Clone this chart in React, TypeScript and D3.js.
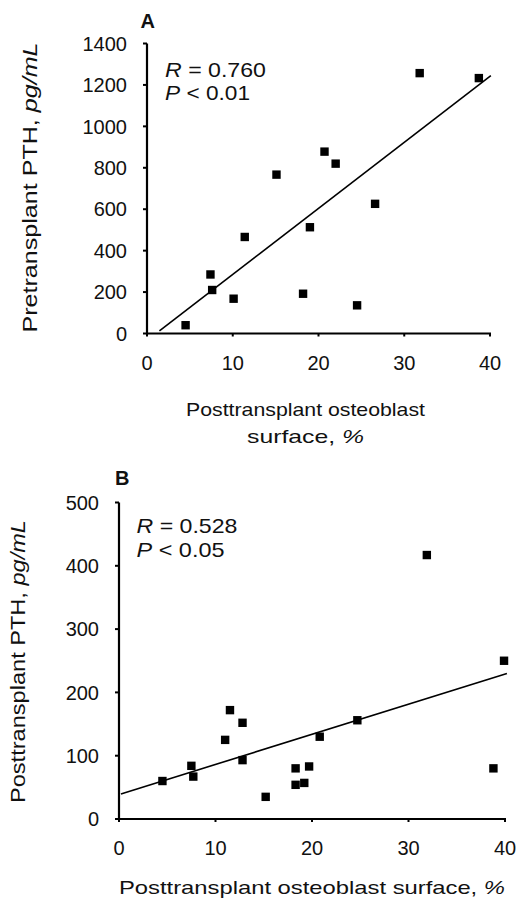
import React from 'react';
import * as d3 from 'd3';

// ---- data ----
const xTickValues = [0, 10, 20, 30, 40];
const aYTickValues = [0, 200, 400, 600, 800, 1000, 1200, 1400];
const bYTickValues = [0, 100, 200, 300, 400, 500];

// Panel A: posttransplant osteoblast surface (%) vs pretransplant PTH (pg/mL)
const aX = [4.5, 7.4, 7.6, 10.1, 11.4, 15.1, 18.2, 19.0, 20.7, 22.0, 24.5, 26.6, 31.8, 38.7];
const aY = [40, 285, 210, 168, 466, 767, 192, 513, 878, 820, 136, 626, 1257, 1233];
const aFit = [-34, 31.9]; // intercept, slope
const aFitRange = [1.45, 40.1];

// Panel B: posttransplant osteoblast surface (%) vs posttransplant PTH (pg/mL)
const bX = [4.5, 7.5, 7.7, 11.0, 11.5, 12.8, 12.8, 15.2, 18.3, 18.3, 19.2, 19.7, 20.8, 24.7, 31.9, 38.8, 39.9];
const bY = [60, 84, 67, 125, 172, 152, 93, 35, 80, 54, 57, 83, 130, 156, 417, 80, 250];
const bFit = [38.6, 4.76];
const bFitRange = [0.2, 40.2];

const FONT = '"Liberation Sans", Arial, Helvetica, sans-serif';

type PanelProps = {
  xs: number[];
  ys: number[];
  fit: number[];
  fitRange: number[];
  yTicks: number[];
  xRange: [number, number];
  yRange: [number, number];
  yMax: number;
};

function Panel({ xs, ys, fit, fitRange, yTicks, xRange, yRange, yMax }: PanelProps) {
  const x = d3.scaleLinear().domain([0, 40]).range(xRange);
  const y = d3.scaleLinear().domain([0, yMax]).range(yRange);
  const line = d3
    .line<number>()
    .x((d) => x(d))
    .y((d) => y(fit[0] + fit[1] * d));
  const pts = xs.map((v, i) => [v, ys[i]]);
  return (
    <g>
      {/* axes */}
      <line x1={x(0)} x2={x(0)} y1={y(0) + 1} y2={y(yMax)} stroke="#000" strokeWidth={2.2} />
      <line x1={x(0) - 1} x2={x(40) + 1} y1={y(0)} y2={y(0)} stroke="#000" strokeWidth={2.2} />
      {yTicks.map((t) => (
        <g key={'y' + t}>
          <line x1={x(0) - 4} x2={x(0)} y1={y(t)} y2={y(t)} stroke="#000" strokeWidth={2} />
          <text
            x={x(0) - 20}
            y={y(t)}
            dy="0.36em"
            textAnchor="end"
            fontSize={20}
            fontFamily={FONT}
            fill="#111"
          >
            {t}
          </text>
        </g>
      ))}
      {xTickValues.map((t) => (
        <g key={'x' + t}>
          <line x1={x(t)} x2={x(t)} y1={y(0)} y2={y(0) + 3} stroke="#000" strokeWidth={2} />
          <text
            x={x(t)}
            y={y(0) + 36}
            textAnchor="middle"
            fontSize={20}
            fontFamily={FONT}
            fill="#111"
          >
            {t}
          </text>
        </g>
      ))}
      <path d={line(fitRange) || ''} stroke="#000" strokeWidth={1.6} fill="none" />
      {pts.map((p, i) => (
        <rect key={i} x={x(p[0]) - 4.2} y={y(p[1]) - 4.2} width={8.4} height={8.4} fill="#000" />
      ))}
    </g>
  );
}

export default function App() {
  return (
    <svg
      width={518}
      height={910}
      style={{ position: 'absolute', left: 0, top: 0, background: '#fff' }}
      fontFamily={FONT}
    >
      <rect width={518} height={910} fill="#fff" />
      {/* Panel A */}
      <text x={140.5} y={27.5} fontSize={20} fontWeight="bold" fill="#111">A</text>
      <text x={165} y={77} fontSize={21} fill="#111" textLength={101} lengthAdjust="spacingAndGlyphs">
        <tspan fontStyle="italic">R</tspan> = 0.760
      </text>
      <text x={165} y={100} fontSize={21} fill="#111" textLength={85} lengthAdjust="spacingAndGlyphs">
        <tspan fontStyle="italic">P</tspan> &lt; 0.01
      </text>
      <Panel
        xs={aX}
        ys={aY}
        fit={aFit}
        fitRange={aFitRange}
        yTicks={aYTickValues}
        xRange={[147, 490]}
        yRange={[333.5, 43.5]}
        yMax={1400}
      />
      <text
        transform="translate(37,187.5) rotate(-90)"
        textAnchor="middle"
        fontSize={20}
        fill="#111"
        textLength={290}
        lengthAdjust="spacingAndGlyphs"
      >
        Pretransplant PTH, <tspan fontStyle="italic">pg/mL</tspan>
      </text>
      <text x={305.5} y={416} textAnchor="middle" fontSize={19} fill="#111" textLength={239} lengthAdjust="spacingAndGlyphs">
        Posttransplant osteoblast
      </text>
      <text x={305.5} y={443} textAnchor="middle" fontSize={19} fill="#111" textLength={117} lengthAdjust="spacingAndGlyphs">
        surface, <tspan fontStyle="italic">%</tspan>
      </text>

      {/* Panel B */}
      <text x={115} y={485} fontSize={20} fontWeight="bold" fill="#111">B</text>
      <text x={136.5} y={533} fontSize={21} fill="#111" textLength={101} lengthAdjust="spacingAndGlyphs">
        <tspan fontStyle="italic">R</tspan> = 0.528
      </text>
      <text x={136.5} y={557} fontSize={21} fill="#111" textLength={88} lengthAdjust="spacingAndGlyphs">
        <tspan fontStyle="italic">P</tspan> &lt; 0.05
      </text>
      <Panel
        xs={bX}
        ys={bY}
        fit={bFit}
        fitRange={bFitRange}
        yTicks={bYTickValues}
        xRange={[119, 505]}
        yRange={[819, 502.5]}
        yMax={500}
      />
      <text
        transform="translate(25,661.5) rotate(-90)"
        textAnchor="middle"
        fontSize={20}
        fill="#111"
        textLength={283}
        lengthAdjust="spacingAndGlyphs"
      >
        Posttransplant PTH, <tspan fontStyle="italic">pg/mL</tspan>
      </text>
      <text x={312} y={894} textAnchor="middle" fontSize={19} fill="#111" textLength={386} lengthAdjust="spacingAndGlyphs">
        Posttransplant osteoblast surface, <tspan fontStyle="italic">%</tspan>
      </text>
    </svg>
  );
}
